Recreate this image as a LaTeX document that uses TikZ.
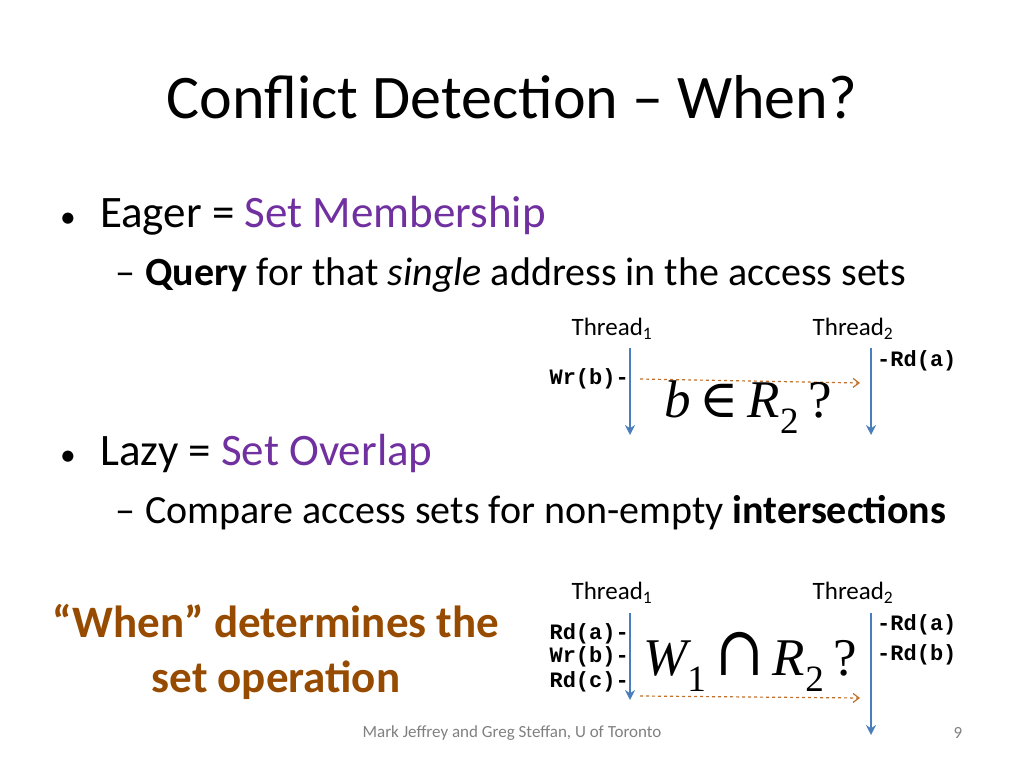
\documentclass[tikz,border=0pt]{standalone}
\usepackage{fontspec}
\setmainfont{Carlito}
\newfontfamily\cour{Liberation Mono}
\newfontfamily\tms{Liberation Serif}
\newfontfamily\dvs{DejaVu Serif}
\usetikzlibrary{arrows.meta}
\definecolor{purp}{RGB}{112,48,160}
\definecolor{brn}{RGB}{150,75,0}
\definecolor{arrb}{RGB}{74,126,187}
\definecolor{dsh}{RGB}{192,112,40}
\begin{document}
\begin{tikzpicture}[x=1pt,y=-1pt,
  txt/.style={inner sep=0pt,anchor=base west},
  thr/.style={inner sep=0pt,font=\fontsize{25}{29}\selectfont},
  op/.style={inner sep=0pt,font=\cour\bfseries\fontsize{22}{25}\selectfont},
  tl/.style={draw=arrb,line width=2.5pt,-{Stealth[length=10pt,width=10pt]}},
  qd/.style={draw=dsh,dashed,line width=1.2pt,-{Straight Barb[length=6pt,width=9pt]}},
  fm/.style={inner sep=0pt,font=\tms\itshape\fontsize{53}{60}\selectfont}]
\useasboundingbox (0,0) rectangle (1024,768);
\node[inner sep=0pt,font=\fontsize{62}{70}\selectfont] (title) at (512,97) {Conflict Detection – When?};
\node[txt,font=\fontsize{45}{50}\selectfont] (d1) at (60,227) {\scalebox{0.7}{•}};
\node[txt,font=\fontsize{45}{50}\selectfont] (b1) at (100,227) {Eager = \textcolor{purp}{Set Membership}};
\node[txt,font=\fontsize{40}{46}\selectfont] (s1) at (115,285) {–};
\node[txt,font=\fontsize{40}{46}\selectfont] (s1t) at (145,285) {\textbf{Query} for that \textit{single} address in the access sets};
\node[txt,font=\fontsize{45}{50}\selectfont] (d2) at (60,465) {\scalebox{0.7}{•}};
\node[txt,font=\fontsize{45}{50}\selectfont] (b2) at (100,465) {Lazy = \textcolor{purp}{Set Overlap}};
\node[txt,font=\fontsize{40}{46}\selectfont] (s2) at (115,523) {–};
\node[txt,font=\fontsize{40}{46}\selectfont] (s2t) at (145,523) {Compare access sets for non-empty \textbf{intersections}};
% top diagram
\node[thr] (t1a) at (612,329) {Thread\textsubscript{1}};
\node[thr] (t2a) at (853,329) {Thread\textsubscript{2}};
\coordinate (a1s) at (630,348); \coordinate (a1e) at (630,435);
\coordinate (a2s) at (871,348); \coordinate (a2e) at (871,435);
\draw[tl] (a1s) -- (a1e);
\draw[tl] (a2s) -- (a2e);
\node[op,anchor=east] (wb) at (629,379) {Wr(b)-};
\node[op,anchor=west] (ra) at (877,361) {-Rd(a)};
\coordinate (q1s) at (640,379); \coordinate (q1e) at (860,383);
\draw[qd] (q1s) -- (q1e);
\node[fm] (f1) at (748,407) {b\,{\dvs\upshape ∈}\,R\textsubscript{\upshape 2}\,\upshape ?};
% bottom
\node[inner sep=0pt,align=center,text=brn,font=\bfseries\fontsize{45}{55}\selectfont] (when) at (276,652) {“When” determines the\\set operation};
\node[thr] (t1b) at (612,593) {Thread\textsubscript{1}};
\node[thr] (t2b) at (853,593) {Thread\textsubscript{2}};
\coordinate (b1s) at (630,613); \coordinate (b1e) at (630,700);
\coordinate (b2s) at (871,613); \coordinate (b2e) at (871,735);
\draw[tl] (b1s) -- (b1e);
\draw[tl] (b2s) -- (b2e);
\node[op,anchor=east] (ra1) at (629,634) {Rd(a)-};
\node[op,anchor=east] (wb1) at (629,657) {Wr(b)-};
\node[op,anchor=east] (rc1) at (629,682) {Rd(c)-};
\node[op,anchor=west] (ra2) at (877,625) {-Rd(a)};
\node[op,anchor=west] (rb2) at (877,655) {-Rd(b)};
\coordinate (q2s) at (640,696); \coordinate (q2e) at (860,698);
\draw[qd] (q2s) -- (q2e);
\node[fm] (f2) at (750,662) {W\textsubscript{\upshape 1}\,{\dvs\upshape\scalebox{1.1}[1.3]{∩}}\,R\textsubscript{\upshape 2}\,\upshape ?};
\node[inner sep=0pt,text=gray,font=\fontsize{17}{19}\selectfont] (foot) at (512,733) {Mark Jeffrey and Greg Steffan, U of Toronto};
\node[inner sep=0pt,text=gray,font=\fontsize{17}{19}\selectfont] (pg) at (958,733) {9};
\end{tikzpicture}
\end{document}
